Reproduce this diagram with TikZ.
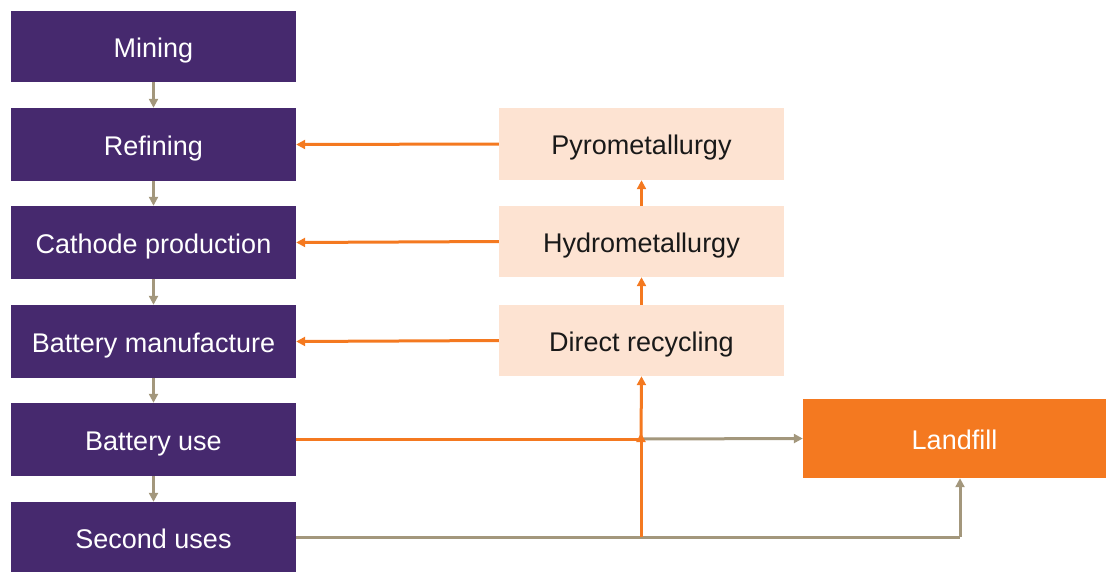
\documentclass[tikz,border=0pt]{standalone}
\usepackage{fontspec}
\setmainfont{Liberation Sans}
\usetikzlibrary{arrows.meta}
\definecolor{purp}{HTML}{46296E}
\definecolor{peach}{HTML}{FDE3D2}
\definecolor{orng}{HTML}{F47920}
\definecolor{gry}{HTML}{A3977C}
\begin{document}
\begin{tikzpicture}[x=1pt,y=-1pt,
  boxfont/.style={inner sep=0pt,text height=24pt,text depth=3pt,font=\fontsize{27}{30}\selectfont},
  pbox/.style={boxfont,fill=purp,text=white,minimum width=285pt},
  lbox/.style={boxfont,fill=peach,text=black!90,minimum width=285pt},
  obox/.style={boxfont,fill=orng,text=white,minimum width=303pt},
  tip/.style={-{Triangle[length=9pt,width=9pt]}},
  garr/.style={draw=gry,line width=3pt,tip},
  gline/.style={draw=gry,line width=3pt},
  oarr/.style={draw=orng,line width=3pt,tip},
  oline/.style={draw=orng,line width=3pt}]
\useasboundingbox (0,0) rectangle (1106,571);
\node[pbox,minimum height=71pt] (min) at (153.5,46.5) {Mining};
\node[pbox,minimum height=73pt] (ref) at (153.5,144.5) {Refining};
\node[pbox,minimum height=73pt] (cat) at (153.5,242.5) {Cathode production};
\node[pbox,minimum height=73pt] (bm) at (153.5,341.5) {Battery manufacture};
\node[pbox,minimum height=73pt] (bu) at (153.5,439.5) {Battery use};
\node[pbox,minimum height=71pt] (su) at (153.5,537.5) {Second uses};
\node[lbox,minimum height=72pt] (pyro) at (641.5,144) {Pyrometallurgy};
\node[lbox,minimum height=71pt] (hydro) at (641.5,241.5) {Hydrometallurgy};
\node[lbox,minimum height=71pt] (dir) at (641.5,340.5) {Direct recycling};
\node[obox,minimum height=79pt] (land) at (954.5,438.5) {Landfill};
\coordinate (j1) at (641,439);
\coordinate (j2) at (641,537);
\coordinate (j3) at (960,537);
% vertical gray chain
\draw[garr] (min.south) -- (ref.north);
\draw[garr] (ref.south) -- (cat.north);
\draw[garr] (cat.south) -- (bm.north);
\draw[garr] (bm.south) -- (bu.north);
\draw[garr] (bu.south) -- (su.north);
% recycled material returns
\draw[oarr] (pyro.west) -- (ref.east);
\draw[oarr] (hydro.west) -- (cat.east);
\draw[oarr] (dir.west) -- (bm.east);
\draw[oarr] (hydro.north) -- (pyro.south);
\draw[oarr] (dir.north) -- (hydro.south);
% battery use outputs
\draw[garr] (j1) -- (land.west);
\draw[oline] (bu.east |- j1) -- (j1);
\draw[oarr] (j1) -- (dir.south);
% second uses outputs
\draw[gline] (su.east |- j2) -- (j2) -- (j3);
\draw[garr] (j3) -- (land.south -| j3);
\draw[oarr] (j2) -- ([yshift=6pt]j1);
\end{tikzpicture}
\end{document}
